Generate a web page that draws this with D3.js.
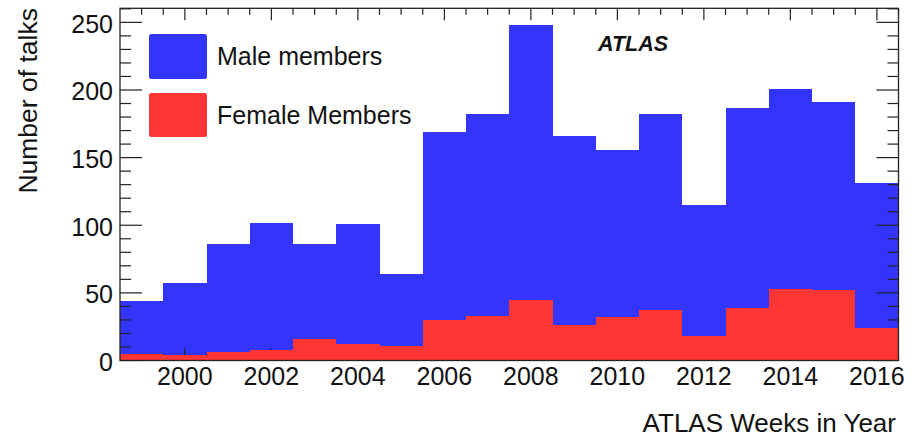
<!DOCTYPE html>
<html>
<head>
<meta charset="utf-8">
<script src="https://cdn.jsdelivr.net/npm/d3@7/dist/d3.min.js"></script>
<style>
  html, body { margin: 0; padding: 0; background: #fff; }
  svg { display: block; }
  text { font-family: "Liberation Sans", Arial, Helvetica, sans-serif; fill: #111; }
</style>
</head>
<body>
<svg id="chart" width="920" height="439"></svg>
<script>
// ---- data ----
const years = [1999, 2000, 2001, 2002, 2003, 2004, 2005, 2006, 2007, 2008, 2009, 2010, 2011, 2012, 2013, 2014, 2015, 2016];
const maleTalks = [44, 57, 86, 102, 86, 101, 64, 169, 182, 248, 166, 156, 182, 115, 187, 201, 191, 131];
const femaleTalks = [5, 4, 6, 8, 16, 12, 11, 30, 33, 45, 26, 32, 37, 18, 39, 53, 52, 24];
const xTickLabels = [2000, 2002, 2004, 2006, 2008, 2010, 2012, 2014, 2016];
const yTickLabels = [0, 50, 100, 150, 200, 250];
const legendLabels = ["Male members", "Female Members"];
const colors = ["#3434ff", "#ff3434"];

// ---- layout ----
const svg = d3.select("#chart");
const L = 120, R = 898.5, T = 8.3, B = 360.5;
const x = d3.scaleLinear().domain([1998.5, 2016.5]).range([L, R]);
const y = d3.scaleLinear().domain([0, 260.4]).range([B, T]);

function drawBars(values, color) {
  svg.append("g").selectAll("rect").data(years).join("rect")
    .attr("x", d => x(d - 0.5))
    .attr("width", d => x(d + 0.5) - x(d - 0.5))
    .attr("y", (d, i) => y(values[i]))
    .attr("height", (d, i) => y(0) - y(values[i]))
    .attr("fill", color)
    .attr("shape-rendering", "crispEdges");
}

// male histogram
drawBars(maleTalks, colors[0]);

// ---- ticks (drawn between the two histograms) ----
const tg = svg.append("g").attr("stroke", "#222").attr("stroke-width", 1.2);
const yMinor = d3.range(0, 261, 10);
tg.selectAll(".yl").data(yMinor).join("line")
  .attr("x1", L).attr("x2", d => L + (d % 50 === 0 ? 22 : 11))
  .attr("y1", d => y(d)).attr("y2", d => y(d));
tg.selectAll(".yr").data(yMinor).join("line")
  .attr("x1", R).attr("x2", d => R - (d % 50 === 0 ? 22 : 11))
  .attr("y1", d => y(d)).attr("y2", d => y(d));
const xMinor = d3.range(1999, 2016.51, 0.5);
tg.selectAll(".xb").data(xMinor).join("line")
  .attr("x1", d => x(d)).attr("x2", d => x(d))
  .attr("y1", B).attr("y2", d => B - (d % 2 === 0 ? 12 : 6.5));
tg.selectAll(".xt").data(xMinor).join("line")
  .attr("x1", d => x(d)).attr("x2", d => x(d))
  .attr("y1", T).attr("y2", d => T + (d % 2 === 0 ? 12 : 6.5));

// female histogram
drawBars(femaleTalks, colors[1]);

// frame
svg.append("rect")
  .attr("x", L).attr("y", T).attr("width", R - L).attr("height", B - T)
  .attr("fill", "none").attr("stroke", "#222").attr("stroke-width", 1.3);

// ---- tick labels ----
svg.append("g").selectAll("text").data(xTickLabels).join("text")
  .attr("x", d => x(d)).attr("y", 385)
  .attr("text-anchor", "middle").attr("font-size", 25)
  .text(d => d);
svg.append("g").selectAll("text").data(yTickLabels).join("text")
  .attr("x", 113).attr("y", d => y(d) + 1.5)
  .attr("text-anchor", "end").attr("dominant-baseline", "central").attr("font-size", 25)
  .text(d => d);

// axis titles
svg.append("text").attr("x", 896).attr("y", 432)
  .attr("text-anchor", "end").attr("font-size", 26)
  .text("ATLAS Weeks in Year");
svg.append("text").attr("transform", "translate(37,8) rotate(-90)")
  .attr("text-anchor", "end").attr("font-size", 26.5)
  .text("Number of talks");

// ATLAS label
svg.append("text").attr("x", 598).attr("y", 51)
  .attr("font-size", 21.5).attr("font-weight", "bold").attr("font-style", "italic")
  .text("ATLAS");

// ---- legend ----
const lg = svg.append("g");
const legendRows = [0, 1];
lg.selectAll("rect").data(legendRows).join("rect")
  .attr("x", 149).attr("y", d => 34 + d * 59)
  .attr("width", 58).attr("height", d => d === 0 ? 45 : 44)
  .attr("rx", 2.5)
  .attr("fill", d => colors[d]);
lg.selectAll("text").data(legendRows).join("text")
  .attr("x", 217).attr("y", d => 65 + d * 59)
  .attr("font-size", 25)
  .text(d => legendLabels[d]);
</script>
</body>
</html>
